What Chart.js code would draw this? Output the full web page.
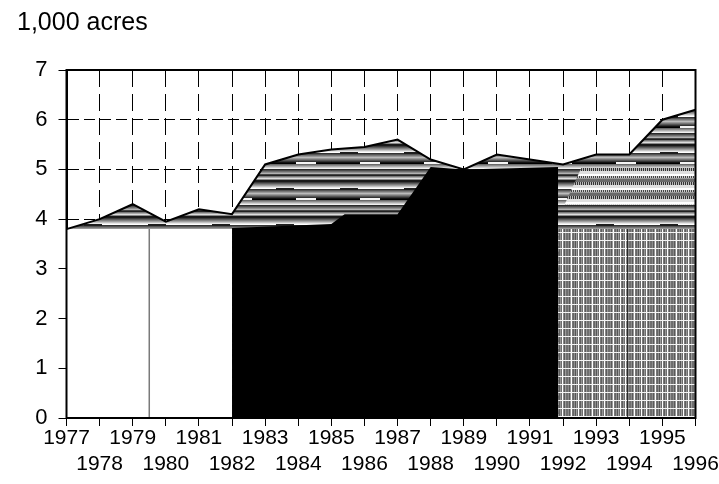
<!DOCTYPE html>
<html>
<head>
<meta charset="utf-8">
<script src="https://cdn.jsdelivr.net/npm/chart.js@4.4.1/dist/chart.umd.min.js"></script>
<style>
  html, body { margin: 0; padding: 0; background: #fff; }
  #wrap { width: 719px; height: 484px; }
</style>
</head>
<body>
<div id="wrap"><canvas id="chart" width="719" height="484"></canvas></div>
<script>
// Years on the x axis
const years = [1977, 1978, 1979, 1980, 1981, 1982, 1983, 1984, 1985, 1986,
               1987, 1988, 1989, 1990, 1991, 1992, 1993, 1994, 1995, 1996];
// Total acreage (top line), 1,000 acres
const totalAcres = [3.8, 4.0, 4.3, 3.95, 4.2, 4.1, 5.1, 5.3, 5.4, 5.45,
                    5.6, 5.2, 5.0, 5.3, 5.2, 5.1, 5.3, 5.3, 6.0, 6.2];

// Bottom blocks
const whiteYears = [1977, 1982];
const whiteAcres = [3.8, 3.8];
const blackYears = [1982, 1985, 1985.4, 1987, 1988, 1989, 1991.85];
const blackAcres = [3.82, 3.9, 4.1, 4.1, 5.05, 5.0, 5.05];
const hatchYears = [1991.85, 1996];
const hatchAcres = [3.8, 3.8];
// Patterned band on top of the hatched block
const bandYears = [1992.05, 1992.55, 1996];
const bandAcres = [4.3, 5.03, 5.03];
const bandFloor = 4.3;
// Thin dividers inside the white and hatched blocks
const dividerYears = [1979.5, 1979.5];
const dividerAcres = [0, 3.8];
const divider2Years = [1993.95, 1993.95];
const divider2Acres = [0, 3.8];

const yTicks = [0, 1, 2, 3, 4, 5, 6, 7];

function pts(xs, ys) {
    return xs.map((x, i) => ({ x: x, y: ys[i] }));
}

const canvas = document.getElementById("chart");
const ctx = canvas.getContext("2d");

function makePattern(w, h, paint) {
    const c = document.createElement("canvas");
    c.width = w;
    c.height = h;
    paint(c.getContext("2d"));
    return ctx.createPattern(c, "repeat");
}

// grey horizontal bands for the upper layer
const stripeRows = ["#1a1a1a", "#1a1a1a", "#3c3c3c", "#5e5e5e", "#808080", "#a0a0a0", "#c4c4c4", "#e8e8e8",
                    "#ffffff", "#333333", "#555555", "#777777", "#999999", "#bbbbbb", "#999999", "#777777",
                    "#555555", "#333333", "#111111", "#000000", "#6a6a6a", "#8c8c8c", "#aeaeae", "#d0d0d0",
                    "#f0f0f0", "#2a2a2a", "#4c4c4c", "#6e6e6e", "#909090", "#b2b2b2", "#444444", "#222222",
                    "#777777", "#aaaaaa", "#dddddd", "#888888"];
const stripes = makePattern(64, stripeRows.length, g => {
    stripeRows.forEach((c, i) => {
        g.fillStyle = c;
        g.fillRect(0, i, 64, 1);
    });
    // a few short offsets so the bands look stepped
    g.fillStyle = "#1e1e1e";
    g.fillRect(20, 8, 18, 2);
    g.fillStyle = "#f4f4f4";
    g.fillRect(40, 18, 20, 2);
});

// grey vertical stripes with white grid for the 1992-96 block
const hatchCols = ["#6e6e6e", "#8a8a8a", "#5a5a5a", "#9a9a9a", "#fff", "#777", "#666", "#8e8e8e",
                   "#555", "#a0a0a0", "#6a6a6a", "#fff", "#7a7a7a", "#5e5e5e", "#959595", "#6e6e6e",
                   "#fff", "#888", "#5a5a5a", "#9a9a9a", "#707070"];
const hatch = makePattern(hatchCols.length, 8, g => {
    hatchCols.forEach((c, i) => {
        g.fillStyle = c;
        g.fillRect(i, 0, 1, 8);
    });
    g.fillStyle = "#f4f4f4";
    g.fillRect(0, 0, hatchCols.length, 1);
});

// dotted light bands
const dotted = makePattern(8, 14, g => {
    g.fillStyle = "#9a9a9a";
    g.fillRect(0, 0, 8, 14);
    for (let x = 0; x < 8; x++) {
        g.fillStyle = x % 2 ? "#333" : "#bbb";
        g.fillRect(x, 0, 1, 3);
        g.fillStyle = x % 2 ? "#444" : "#ccc";
        g.fillRect(x, 8, 1, 2);
    }
    g.fillStyle = "#e0e0e0";
    g.fillRect(0, 3, 8, 3);
    g.fillStyle = "#ffffff";
    g.fillRect(0, 6, 8, 2);
    g.fillStyle = "#6a6a6a";
    g.fillRect(0, 11, 8, 3);
});

// solid frame round the plot, drawn over the fills
const framePlugin = {
    id: "frame",
    afterDatasetsDraw(chart) {
        const a = chart.chartArea;
        const c = chart.ctx;
        c.save();
        c.strokeStyle = "#000";
        c.lineWidth = 2;
        c.strokeRect(a.left, a.top, a.right - a.left, a.bottom - a.top);
        c.restore();
    }
};

// tick labels in the original are narrow; fall back to a smaller size if no narrow face is installed
const tickFamily = "'Liberation Sans Narrow', 'Arial Narrow', 'Liberation Sans', Arial, sans-serif";
ctx.font = "23px " + tickFamily;
const tickSize = ctx.measureText("1979").width > 46 ? 21 : 23;
const tickFont = { family: tickFamily, size: tickSize, lineHeight: 26 / tickSize };

new Chart(ctx, {
    type: "line",
    data: {
        datasets: [
            { data: pts(years, totalAcres), borderColor: "#000", borderWidth: 2, fill: false },
            { data: pts(dividerYears, dividerAcres), borderColor: "#7a7a7a", borderWidth: 1.5, fill: false },
            { data: pts(divider2Years, divider2Acres), borderColor: "#222", borderWidth: 1, fill: false },
            { data: pts(hatchYears, hatchAcres), borderWidth: 0, backgroundColor: hatch, fill: "origin" },
            { data: pts(whiteYears, whiteAcres), borderWidth: 0, backgroundColor: "#fff", fill: "origin" },
            { data: pts(blackYears, blackAcres), borderWidth: 0, backgroundColor: "#000", fill: "origin" },
            { data: pts(bandYears, bandAcres), borderWidth: 0, backgroundColor: dotted, fill: { value: bandFloor } },
            { data: pts(years, totalAcres), borderWidth: 0, backgroundColor: stripes, fill: "origin" }
        ]
    },
    options: {
        responsive: false,
        animation: false,
        devicePixelRatio: 1,
        elements: {
            line: { tension: 0 },
            point: { radius: 0, hoverRadius: 0 }
        },
        layout: { padding: { left: 17, right: 23.5, top: 0, bottom: 0 } },
        plugins: {
            legend: { display: false },
            tooltip: { enabled: false },
            title: {
                display: true,
                text: "1,000 acres",
                align: "start",
                color: "#000",
                font: { family: "'Liberation Sans', Arial, sans-serif", size: 25, weight: "normal", lineHeight: 1.2 },
                padding: { top: 8, bottom: 32 }
            }
        },
        scales: {
            x: {
                type: "linear",
                min: years[0],
                max: years[years.length - 1],
                afterFit: s => { s.height = 66; s.paddingLeft = 0; s.paddingRight = 0; },
                ticks: {
                    stepSize: 1,
                    autoSkip: false,
                    maxRotation: 0,
                    minRotation: 0,
                    padding: -1,
                    color: "#000",
                    font: tickFont,
                    callback: v => ((v - years[0]) % 2 === 0 ? [String(v), ""] : ["", String(v)])
                },
                grid: { color: "#000", lineWidth: 1, tickLength: 8, tickColor: "#000" },
                border: { display: true, color: "#000", width: 2, dash: [17, 7] }
            },
            y: {
                min: yTicks[0],
                max: yTicks[yTicks.length - 1],
                afterFit: s => { s.width = 49.5; s.paddingTop = 0; s.paddingBottom = 0; },
                afterBuildTicks: s => { s.ticks = yTicks.map(v => ({ value: v })); },
                ticks: {
                    padding: 11,
                    color: "#000",
                    font: { family: tickFamily, size: 22 }
                },
                grid: { color: "#000", lineWidth: 1, tickLength: 8, tickColor: "#000" },
                border: { display: true, color: "#000", width: 2, dash: [11, 5] }
            }
        }
    },
    plugins: [framePlugin]
});
</script>
</body>
</html>
